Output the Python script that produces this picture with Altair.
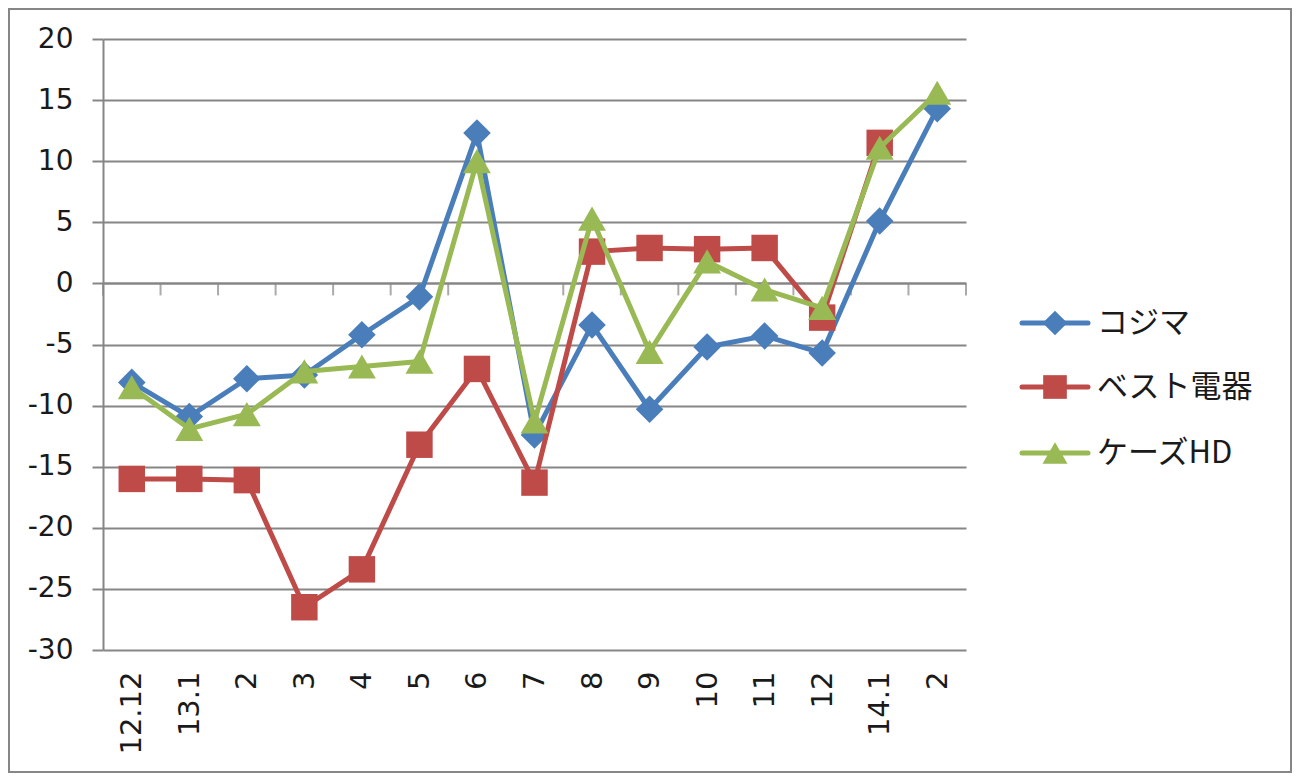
import json
import altair as alt
import pandas as pd

labels = ["12.12", "13.1", "2", "3", "4", "5", "6", "7", "8", "9", "10", "11", "12", "14.1", "2"]
series_names = ["コジマ", "ベスト電器", "ケーズHD"]
kojima = [-8.1, -10.9, -7.8, -7.5, -4.2, -1.1, 12.3, -12.4, -3.4, -10.3, -5.2, -4.3, -5.7, 5.1, 14.3]
best = [-16.0, -16.0, -16.1, -26.5, -23.4, -13.2, -7.0, -16.3, 2.6, 2.9, 2.8, 2.9, -2.8, 11.5, None]
ks = [-8.5, -11.9, -10.7, -7.2, -6.8, -6.4, 10.0, -11.3, 5.3, -5.6, 1.8, -0.5, -2.0, 11.1, 15.6]
y_ticks = [-30, -25, -20, -15, -10, -5, 0, 5, 10, 15, 20]

colors = ["#4A7EBB", "#BE4B48", "#98B954"]
shapes = ["diamond", "square", "triangle-up"]
sizes = [760, 700, 780]

GRID = "#868686"
W, H = 863, 611
PL, PT, PR, PB = 95, 31, 326, 123

n = len(labels)
xscale = alt.Scale(domain=[-0.5, n - 0.5], nice=False, zero=False)
yscale = alt.Scale(domain=[min(y_ticks), max(y_ticks)], nice=False)

label_expr = json.dumps(labels, ensure_ascii=False) + "[datum.value]"

x_axis = alt.Axis(values=list(range(n)), labelExpr=label_expr, labelAngle=270,
                  grid=False, ticks=False, domain=False, labelPadding=21,
                  labelFont="DejaVu Sans", labelFontSize=29, labelColor="#1a1a1a",
                  title=None)
y_axis = alt.Axis(values=y_ticks, labelExpr="datum.value + ''", grid=True,
                  gridColor=GRID, gridWidth=2, domainColor=GRID, domainWidth=2,
                  tickColor=GRID, tickWidth=2, tickSize=11, labelPadding=19,
                  labelFont="DejaVu Sans", labelFontSize=28, labelColor="#1a1a1a",
                  title=None)

rows = []
for name, vals in zip(series_names, [kojima, best, ks]):
    for i, v in enumerate(vals):
        if v is not None:
            rows.append({"series": name, "idx": i, "value": v})
df = pd.DataFrame(rows)

one = pd.DataFrame({"a": [0]})

# outer frame
frame = alt.Chart(one).mark_rect(fillOpacity=0, stroke=GRID, strokeWidth=2).encode(
    x=alt.value(-PL + 1), x2=alt.value(W + PR - 1),
    y=alt.value(-PT + 1), y2=alt.value(H + PB - 1))

base = alt.Chart(df)

axis_base = base.mark_point(opacity=0).encode(
    x=alt.X("idx:Q", scale=xscale, axis=x_axis),
    y=alt.Y("value:Q", scale=yscale, axis=y_axis))

zero_df = pd.DataFrame({"x0": [-0.5], "x1": [n - 0.5], "y": [0]})
zero_line = alt.Chart(zero_df).mark_rule(color=GRID, strokeWidth=2).encode(
    x=alt.X("x0:Q", scale=xscale), x2="x1:Q", y=alt.Y("y:Q", scale=yscale))

tick_df = pd.DataFrame({"b": [i - 0.5 for i in range(n + 1)], "y": [0] * (n + 1)})
ticks = alt.Chart(tick_df).mark_tick(orient="vertical", color=GRID, thickness=2,
                                     size=12, yOffset=6).encode(
    x=alt.X("b:Q", scale=xscale), y=alt.Y("y:Q", scale=yscale))

layers = [frame, axis_base, zero_line, ticks]
for name, col, shp, sz in zip(series_names, colors, shapes, sizes):
    sub = base.transform_filter(alt.datum.series == name)
    line = sub.mark_line(color=col, strokeWidth=5, strokeJoin="round").encode(
        x=alt.X("idx:Q", scale=xscale), y=alt.Y("value:Q", scale=yscale))
    pts = sub.mark_point(color=col, filled=True, opacity=1, shape=shp, size=sz).encode(
        x=alt.X("idx:Q", scale=xscale), y=alt.Y("value:Q", scale=yscale))
    layers += [line, pts]

# legend
leg_y = [284, 348, 414]
for name, col, shp, sz, ly in zip(series_names, colors, shapes, sizes, leg_y):
    d = pd.DataFrame({"name": [name]})
    c = alt.Chart(d)
    layers.append(c.mark_rule(color=col, strokeWidth=5, strokeCap="round").encode(
        x=alt.value(919), x2=alt.value(985), y=alt.value(ly)))
    layers.append(c.mark_point(color=col, filled=True, opacity=1, shape=shp, size=sz * 0.8).encode(
        x=alt.value(952), y=alt.value(ly)))
    layers.append(c.mark_text(align="left", baseline="middle", font="Noto Sans CJK JP",
                              fontSize=31, color="#1a1a1a", dy=1).encode(
        x=alt.value(994), y=alt.value(ly), text="name:N"))

chart = alt.layer(*layers).properties(
    width=W, height=H,
    autosize=alt.AutoSizeParams(type="none"),
    padding={"left": PL, "top": PT, "right": PR, "bottom": PB},
    background="white",
).configure_view(stroke=None)

chart.save("out.html", embed_options={"renderer": "svg", "actions": False})
